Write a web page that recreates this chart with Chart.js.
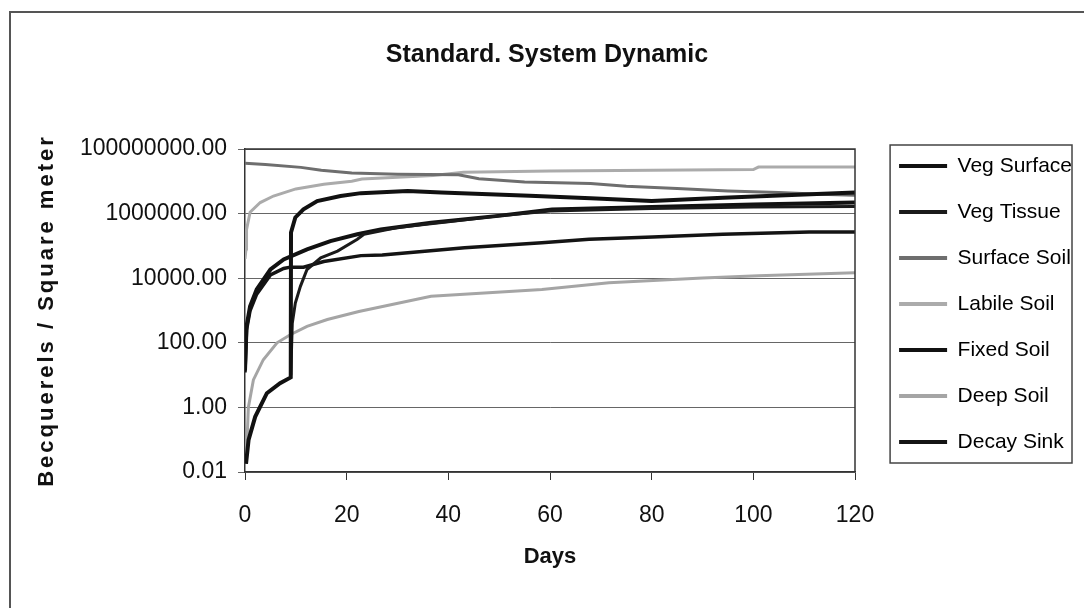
<!DOCTYPE html>
<html>
<head>
<meta charset="utf-8">
<script src="https://cdn.jsdelivr.net/npm/chart.js@4"></script>
<style>
  html, body { margin: 0; padding: 0; background: #fff; }
  body { width: 1084px; height: 608px; position: relative; overflow: hidden; }
  #frame { position: absolute; left: 9px; top: 11px; width: 1200px; height: 700px;
           border-left: 2px solid #555; border-top: 2px solid #555; }
  #wrap { position: absolute; left: 0; top: 0; width: 1084px; height: 608px; }
</style>
</head>
<body>
<div id="frame"></div>
<div id="wrap"><canvas id="chart" width="1084" height="608"></canvas></div>
<script>
// values (days, Bq / m2)
const seriesNames = ['Veg Surface', 'Veg Tissue', 'Surface Soil', 'Labile Soil', 'Fixed Soil', 'Deep Soil', 'Decay Sink'];

const vegSurfaceDays = [0.2, 0.7, 2, 4.3, 6.9, 9.0, 9.05, 9.9, 11.5, 14.2, 18.8, 22.8, 32, 38.6, 56, 68, 80, 94, 110, 120];
const vegSurfaceBq = [0.018, 0.098, 0.51, 2.75, 5.6, 8.5, 2.6e5, 7.6e5, 1.35e6, 2.45e6, 3.5e6, 4.3e6, 5.0e6, 4.5e6, 3.6e6, 3.0e6, 2.45e6, 3.1e6, 3.9e6, 4.5e6];

const vegTissueDays = [9.0, 9.3, 9.9, 10.9, 12.2, 14.9, 18.2, 22.1, 23.4, 30, 40, 50, 60, 80, 100, 120];
const vegTissueBq = [10, 400, 1.7e3, 5.6e3, 1.86e4, 4.3e4, 6.9e4, 1.6e5, 2.3e5, 3.7e5, 5.6e5, 8.5e5, 1.2e6, 1.45e6, 1.6e6, 1.66e6];

const surfaceSoilDays = [0, 4, 11, 15, 21, 30, 42, 46, 55, 68, 75, 85, 95, 105, 113, 120];
const surfaceSoilBq = [3.6e7, 3.3e7, 2.7e7, 2.2e7, 1.8e7, 1.65e7, 1.6e7, 1.2e7, 9.5e6, 8.5e6, 7.0e6, 6.0e6, 5.0e6, 4.5e6, 4.0e6, 3.7e6];

const labileSoilDays = [0, 0.2, 0.3, 1, 3, 5.6, 10, 15.5, 21, 23, 37, 43, 60, 100, 101, 120];
const labileSoilBq = [4e4, 8e4, 3.2e5, 1.1e6, 2.2e6, 3.5e6, 5.8e6, 8.1e6, 1.0e7, 1.17e7, 1.5e7, 1.9e7, 2.1e7, 2.3e7, 2.75e7, 2.75e7];

const fixedSoilDays = [0, 0.3, 1, 2.3, 5, 7.6, 12.2, 16.8, 22.1, 26.7, 36.6, 49.8, 60.4, 80, 100, 120];
const fixedSoilBq = [14, 320, 1350, 4500, 1.86e4, 3.8e4, 7.8e4, 1.4e5, 2.3e5, 3.2e5, 5.2e5, 8.5e5, 1.35e6, 1.6e6, 1.9e6, 2.2e6];

const deepSoilDays = [0.2, 0.46, 0.66, 1.65, 3.6, 6.3, 8.9, 12.2, 16.2, 22.4, 36.6, 58.4, 71.6, 90, 101, 120];
const deepSoilBq = [0.018, 0.155, 1.0, 7.1, 30, 100, 178, 324, 525, 933, 2750, 4500, 7200, 10200, 12000, 14800];

const decaySinkDays = [0, 0.3, 1, 2.3, 5, 7.6, 8.9, 11.5, 15.5, 22.8, 27, 43.2, 58.4, 67.7, 80.2, 94, 111, 120];
const decaySinkBq = [12, 250, 1000, 3200, 1.26e4, 2.0e4, 2.2e4, 2.2e4, 3.3e4, 5.0e4, 5.2e4, 8.7e4, 1.26e5, 1.6e5, 1.9e5, 2.3e5, 2.7e5, 2.7e5];

const yTickValues = [0.01, 1, 100, 10000, 1000000, 100000000];
const xTickStep = 20;

function pts(days, vals) {
    return days.map((d, i) => ({ x: d, y: vals[i] }));
}

const FONT = "'Liberation Sans', Arial, sans-serif";
Chart.defaults.font.family = FONT;
Chart.defaults.color = '#111';

function line(label, days, vals, color, width) {
    return {
        label: label,
        data: pts(days, vals),
        borderColor: color,
        backgroundColor: color,
        borderWidth: width,
        pointRadius: 0,
        tension: 0,
        fill: false
    };
}

const PLOT_RIGHT = 855;
const LEGEND_BOX_RIGHT = 1072;

// letter spaced y title, plot edges and the box round the legend
const framePlugin = {
    id: 'frames',
    beforeDraw(chart) {
        const y = chart.scales.y;
        if (y && !y._spaced) {
            const orig = y.drawTitle.bind(y);
            y.drawTitle = function () {
                const ctx = chart.ctx;
                ctx.save();
                ctx.letterSpacing = '3px';
                orig();
                ctx.restore();
            };
            y._spaced = true;
        }
    },
    afterDraw(chart) {
        const ctx = chart.ctx;
        const a = chart.chartArea;
        ctx.save();
        ctx.strokeStyle = '#333';
        ctx.lineWidth = 1.5;
        ctx.beginPath();
        ctx.moveTo(a.left, a.top);
        ctx.lineTo(a.right, a.top);
        ctx.lineTo(a.right, a.bottom);
        ctx.stroke();

        const hb = chart.legend.legendHitBoxes;
        if (hb && hb.length) {
            const first = hb[0], last = hb[hb.length - 1];
            const top = first.top + first.height / 2 - 21;
            const bottom = last.top + last.height / 2 + 21;
            const left = first.left - 9;
            ctx.strokeStyle = '#444';
            ctx.lineWidth = 1.5;
            ctx.strokeRect(left, top, LEGEND_BOX_RIGHT - left, bottom - top);
        }
        ctx.restore();
    }
};

new Chart(document.getElementById('chart'), {
    type: 'line',
    data: {
        datasets: [
            line(seriesNames[0], vegSurfaceDays, vegSurfaceBq, '#111', 4),
            line(seriesNames[1], vegTissueDays, vegTissueBq, '#1a1a1a', 3),
            line(seriesNames[2], surfaceSoilDays, surfaceSoilBq, '#6e6e6e', 3),
            line(seriesNames[3], labileSoilDays, labileSoilBq, '#ababab', 3),
            line(seriesNames[4], fixedSoilDays, fixedSoilBq, '#111', 4),
            line(seriesNames[5], deepSoilDays, deepSoilBq, '#a5a5a5', 3),
            line(seriesNames[6], decaySinkDays, decaySinkBq, '#141414', 3.5)
        ]
    },
    options: {
        responsive: false,
        animation: false,
        layout: { padding: { left: 12, right: 2, top: 0, bottom: 0 } },
        plugins: {
            title: {
                display: true,
                text: 'Standard. System Dynamic',
                font: { size: 25, weight: 'bold' },
                color: '#111',
                padding: { top: 40, bottom: 79 }
            },
            legend: {
                display: true,
                position: 'right',
                fullSize: true,
                maxWidth: 300,
                labels: {
                    font: { size: 21 },
                    color: '#111',
                    boxWidth: 48,
                    boxHeight: 4,
                    padding: 25,
                    generateLabels(chart) {
                        return chart.data.datasets.map((ds, i) => ({
                            text: ds.label,
                            fillStyle: ds.borderColor,
                            strokeStyle: ds.borderColor,
                            lineWidth: 0,
                            hidden: false,
                            datasetIndex: i
                        }));
                    }
                }
            },
            tooltip: { enabled: false }
        },
        scales: {
            x: {
                type: 'linear',
                min: 0,
                max: 120,
                ticks: {
                    stepSize: xTickStep,
                    font: { size: 23 },
                    color: '#111',
                    padding: 22
                },
                grid: {
                    drawOnChartArea: false,
                    drawTicks: true,
                    tickLength: 8,
                    color: '#333'
                },
                border: { display: true, color: '#333', width: 1.5 },
                title: {
                    display: true,
                    text: 'Days',
                    font: { size: 22, weight: 'bold' },
                    color: '#111',
                    padding: { top: 0, bottom: 38 }
                },
                afterFit(s) { s.height = 136; }
            },
            y: {
                type: 'logarithmic',
                min: 0.01,
                max: 100000000,
                afterBuildTicks(s) {
                    s.ticks = yTickValues.map(v => ({ value: v }));
                },
                ticks: {
                    font: { size: 23 },
                    color: '#111',
                    padding: 11,
                    autoSkip: false,
                    callback: v => Number(v).toFixed(2)
                },
                grid: {
                    color: '#666',
                    lineWidth: 1,
                    tickLength: 7
                },
                border: { display: true, color: '#333', width: 1.5 },
                title: {
                    display: true,
                    text: 'Becquerels / Square meter',
                    font: { size: 22, weight: 'bold' },
                    color: '#111',
                    padding: { top: 22, bottom: 0 }
                },
                afterFit(s) { s.width = 233; }
            },
            yPad: {
                type: 'linear',
                position: 'right',
                display: true,
                ticks: { display: false },
                grid: { display: false },
                border: { display: false },
                afterFit(s) {
                    const lw = s.chart.legend ? s.chart.legend.width : 0;
                    s.width = Math.max(0, 1084 - 2 - lw - PLOT_RIGHT);
                }
            }
        }
    },
    plugins: [framePlugin]
});
</script>
</body>
</html>
